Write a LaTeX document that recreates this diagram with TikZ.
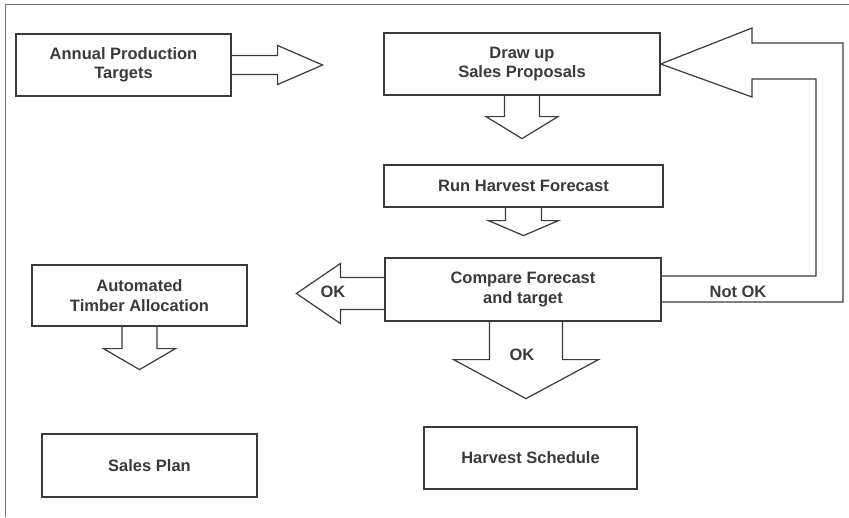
\documentclass[tikz,border=0pt]{standalone}
\usepackage{fontspec}
\setmainfont{Liberation Sans}
\usetikzlibrary{positioning}
\definecolor{linegray}{HTML}{3a3a3a}
\tikzset {
  x=1pt, y=1pt,
  % process boxes
  box/.style = {draw=linegray, line width=1.2pt, align=center, inner sep=0pt,
    text=linegray, font=\fontsize{16.5}{19.5}\selectfont\bfseries},
  % hollow block arrows between the boxes
  blk/.style = {draw=linegray, line width=1.2pt, line join=miter},
  % text written on an arrow
  lbl/.style = {inner sep=0pt, text=linegray, font=\fontsize{16.5}{19.5}\selectfont\bfseries},
}
\begin{document}
\begin{tikzpicture}

        \useasboundingbox (0,0) rectangle (849,-517);
        \draw[linegray!70, line width=1pt] (5,-517) -- (5,-4.5) -- (849,-4.5);

        \node[box, minimum width=215, minimum height=62] (apt) at (123.5,-65) {Annual Production\\Targets};
        \node[box, minimum width=276, minimum height=62] (dsp) at (522,-64) {Draw up\\Sales Proposals};
        \node[box, minimum width=279, minimum height=42] (rhf) at (523.5,-186) {Run Harvest Forecast};
        \node[box, minimum width=276, minimum height=63] (cft) at (523,-289.5) {Compare Forecast\\and target};
        \node[box, minimum width=215, minimum height=61] (ata) at (139.5,-295.5) {Automated\\Timber Allocation};
        \node[box, minimum width=215, minimum height=63] (spl) at (149.5,-465.5) {Sales Plan};
        \node[box, minimum width=213, minimum height=62] (hsc) at (530.5,-458) {Harvest Schedule};

        % targets -> proposals
        \draw[blk] ([yshift=9.5]apt.east) -- ++(46,0) -- ++(0,10) -- ++(45,-19.5)
          -- ++(-45,-19.5) -- ++(0,10) -- ([yshift=-9.5]apt.east);

        % proposals -> forecast
        \draw[blk] ([xshift=-17.5]dsp.south) -- ++(0,-21) -- ++(-18.5,0) -- ++(36,-22)
          -- ++(36,22) -- ++(-18.5,0) -- ([xshift=17.5]dsp.south);

        % forecast -> compare
        \draw[blk] ([xshift=-18]rhf.south) -- ++(0,-13) -- ++(-17,0) -- ++(35,-15)
          -- ++(35,15) -- ++(-17,0) -- ([xshift=18]rhf.south);

        % compare -> allocation (OK)
        \draw[blk] ([yshift=12]cft.west) -- ++(-44,0) -- ++(0,14) -- ++(-44,-30)
          -- ++(44,-30) -- ++(0,14) -- ([yshift=-20]cft.west);
        \node[lbl] (okl) at (333,-292) {OK};

        % allocation -> sales plan
        \draw[blk] ([xshift=-17.5]ata.south) -- ++(0,-22) -- ++(-18.5,0) -- ++(36,-21)
          -- ++(36,21) -- ++(-18.5,0) -- ([xshift=17.5]ata.south);

        % compare -> schedule (OK)
        \draw[blk] ([xshift=-33.5]cft.south) -- ++(0,-38) -- ++(-36,0) -- ++(72.5,-39)
          -- ++(72.5,39) -- ++(-36,0) -- ([xshift=39.5]cft.south);
        \node[lbl] (okd) at (522,-355) {OK};

        % compare -> proposals (Not OK)
        \draw[blk] ([yshift=-12.5]cft.east) -| (843,-43) -- (752,-43) -- (752,-28)
          -- (dsp.east) -- (752,-97) -- (752,-79) -- (816,-79) |- ([yshift=13.5]cft.east);
        \node[lbl] (nok) at (738,-292) {Not OK};

      \end{tikzpicture}
\end{document}
